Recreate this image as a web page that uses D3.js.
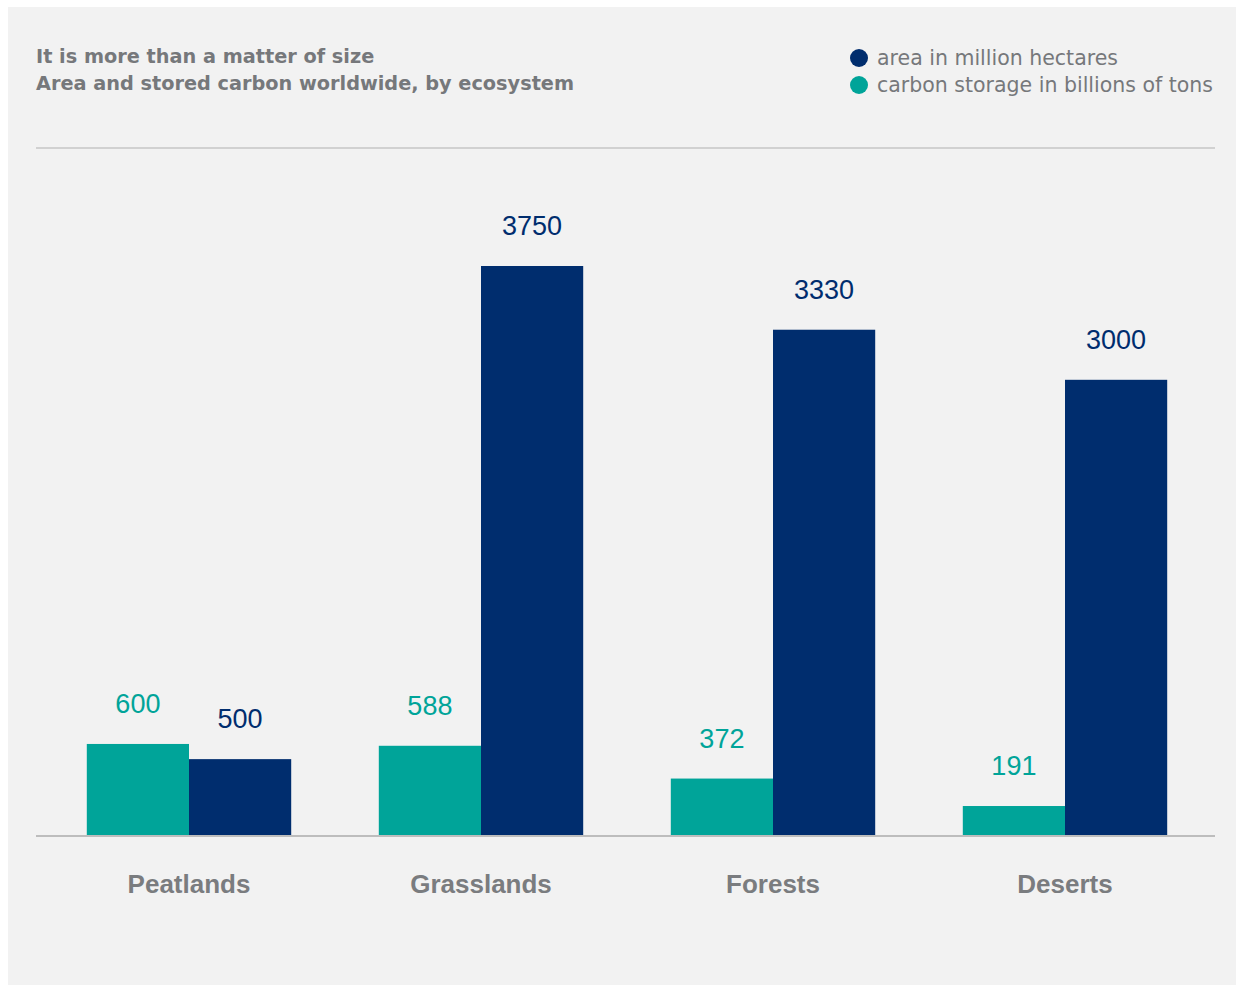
<!DOCTYPE html>
<html>
<head>
<meta charset="utf-8">
<script src="https://cdn.jsdelivr.net/npm/d3@7"></script>
<style>
  body { margin: 0; background: #fff; }
  svg { display: block; font-family: "Liberation Sans", Arial, sans-serif; }
</style>
</head>
<body>
<svg id="chart" width="1236" height="985"></svg>
<script>
// data
var categories = ["Peatlands", "Grasslands", "Forests", "Deserts"];
var carbon = [600, 588, 372, 191];     // billions of tons
var area = [500, 3750, 3330, 3000];    // million hectares
var seriesNames = ["carbon storage in billions of tons", "area in million hectares"];
var titleLines = ["It is more than a matter of size", "Area and stored carbon worldwide, by ecosystem"];

var teal = "#00a499", navy = "#002d6e", grey = "#76787b";

var svg = d3.select("#chart");

// panel
svg.append("rect")
    .attr("x", 8).attr("y", 7)
    .attr("width", 1236 - 8).attr("height", 985 - 7)
    .attr("fill", "#f2f2f2");

// title
svg.append("g").selectAll("text")
    .data(titleLines)
    .enter().append("text")
    .attr("x", 36)
    .attr("y", function(d, i) { return 63 + i * 27; })
    .attr("fill", grey)
    .attr("font-size", 19.3)
    .attr("font-weight", "bold")
    .style("font-family", "'DejaVu Sans', sans-serif")
    .text(function(d) { return d; });

// legend (area first, then carbon)
var legendItems = [
    { name: seriesNames[1], color: navy },
    { name: seriesNames[0], color: teal }
];
var legend = svg.append("g").selectAll("g")
    .data(legendItems)
    .enter().append("g")
    .attr("transform", function(d, i) { return "translate(859," + (58 + i * 27) + ")"; });
legend.append("circle").attr("r", 9).attr("fill", function(d) { return d.color; });
legend.append("text")
    .attr("x", 18).attr("y", 7)
    .attr("fill", grey)
    .attr("font-size", 20.5)
    .style("font-family", "'DejaVu Sans', sans-serif")
    .text(function(d) { return d.name; });

// top rule
svg.append("line")
    .attr("x1", 36).attr("x2", 1215)
    .attr("y1", 148).attr("y2", 148)
    .attr("stroke", "#c6c6c6").attr("stroke-width", 1.5);

var baseY = 835;

var x0 = d3.scaleBand()
    .domain(categories)
    .range([43, 1211])
    .paddingInner(0.3)
    .paddingOuter(0.15);

var x1 = d3.scaleBand()
    .domain(["carbon", "area"])
    .range([0, x0.bandwidth()]);

var y = d3.scaleLinear()
    .domain([0, 3750])
    .range([baseY, 266]);

var rows = categories.map(function(c, i) {
    return { cat: c, values: [
        { key: "carbon", value: carbon[i], color: teal },
        { key: "area", value: area[i], color: navy }
    ] };
});

var groups = svg.append("g").selectAll("g")
    .data(rows)
    .enter().append("g")
    .attr("transform", function(d) { return "translate(" + x0(d.cat) + ",0)"; });

groups.selectAll("rect")
    .data(function(d) { return d.values; })
    .enter().append("rect")
    .attr("x", function(d) { return x1(d.key); })
    .attr("y", function(d) { return y(d.value); })
    .attr("width", x1.bandwidth())
    .attr("height", function(d) { return baseY - y(d.value); })
    .attr("fill", function(d) { return d.color; });

groups.selectAll("text.val")
    .data(function(d) { return d.values; })
    .enter().append("text")
    .attr("class", "val")
    .attr("x", function(d) { return x1(d.key) + x1.bandwidth() / 2; })
    .attr("y", function(d) { return y(d.value) - 31; })
    .attr("text-anchor", "middle")
    .attr("font-size", 27)
    .attr("fill", function(d) { return d.color; })
    .text(function(d) { return d.value; });

// baseline
svg.append("line")
    .attr("x1", 36).attr("x2", 1215)
    .attr("y1", baseY + 1).attr("y2", baseY + 1)
    .attr("stroke", "#bdbdbd").attr("stroke-width", 2);

// category labels
var xAxis = d3.axisBottom(x0).tickSize(0).tickPadding(0);
var axisG = svg.append("g")
    .attr("transform", "translate(0," + baseY + ")")
    .call(xAxis);
axisG.select(".domain").remove();
axisG.selectAll("text")
    .attr("y", 58)
    .attr("dy", 0)
    .attr("font-size", 26)
    .attr("font-weight", "bold")
    .attr("fill", "#7a7c7f");
axisG.attr("font-family", null);
</script>
</body>
</html>
